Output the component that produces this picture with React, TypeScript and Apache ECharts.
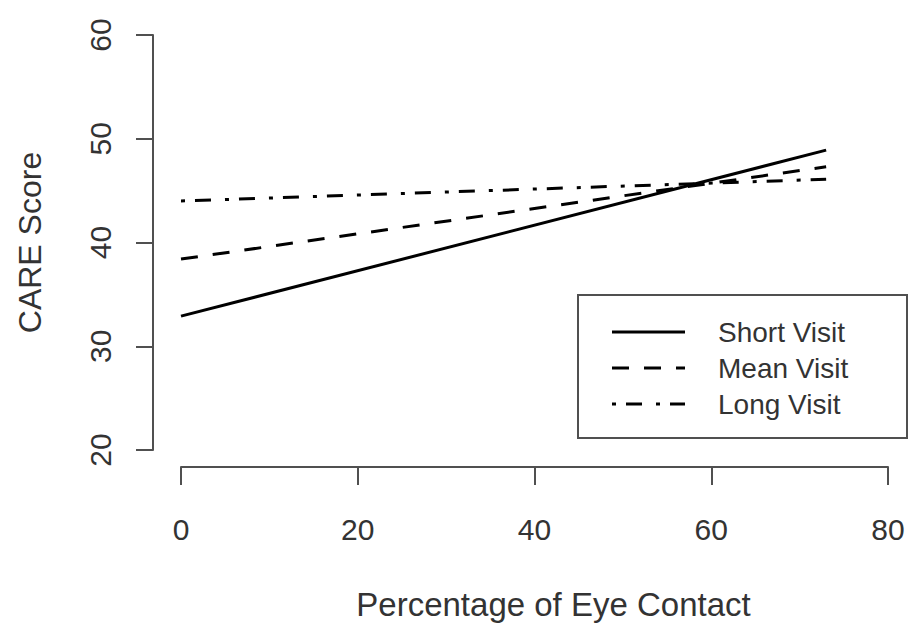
import React, { useEffect, useRef } from "react";
import * as echarts from "echarts";

// Fitted CARE score against percentage of eye contact, by visit length
const eyeContact = [0, 73];
const shortVisit = [32.9, 48.9];
const meanVisit = [38.4, 47.3];
const longVisit = [44.0, 46.1];

const seriesNames = ["Short Visit", "Mean Visit", "Long Visit"];
const xTicks = [0, 20, 40, 60, 80];
const yTicks = [20, 30, 40, 50, 60];

const FONT = "'Liberation Sans', Arial, sans-serif";
const INK = "#000";
const AXIS = "#505050";
const TEXT = "#333";

// R-style line types: solid, dashed, dot-dash
const dashes: (number[] | "solid")[] = ["solid", [17, 15], [4, 10, 16, 14]];

export default function App() {
  const ref = useRef<HTMLDivElement>(null);

  useEffect(() => {
    if (!ref.current) return;
    const chart = echarts.init(ref.current, undefined, { renderer: "svg" });

    const values = [shortVisit, meanVisit, longVisit];

    // legend box drawn as graphic elements
    const boxLeft = 578;
    const boxTop = 295;
    const boxW = 329;
    const boxH = 143;
    const rowY = [332, 368, 404];
    const legendItems: any[] = [
      {
        type: "rect",
        shape: { x: boxLeft, y: boxTop, width: boxW, height: boxH },
        style: { fill: "#fff", stroke: AXIS, lineWidth: 2 },
        z: 10,
      },
    ];
    seriesNames.forEach((name, i) => {
      legendItems.push({
        type: "line",
        shape: { x1: 612, y1: rowY[i], x2: 685, y2: rowY[i] },
        style: {
          stroke: INK,
          lineWidth: 3,
          lineDash: dashes[i] === "solid" ? null : (dashes[i] as number[]),
        },
        z: 11,
      });
      legendItems.push({
        type: "text",
        x: 718,
        y: rowY[i],
        style: {
          text: name,
          fill: TEXT,
          font: `28px ${FONT}`,
          verticalAlign: "middle",
          align: "left",
        },
        z: 11,
      });
    });

    chart.setOption({
      animation: false,
      backgroundColor: "#fff",
      textStyle: { fontFamily: FONT },
      grid: { left: 181, right: 21, top: 35, bottom: 177, containLabel: false },
      xAxis: {
        type: "value",
        min: xTicks[0],
        max: xTicks[xTicks.length - 1],
        interval: 20,
        offset: 17,
        name: "Percentage of Eye Contact",
        nameLocation: "middle",
        nameGap: 121,
        nameTextStyle: {
          fontSize: 33,
          color: TEXT,
          fontFamily: FONT,
          padding: [0, 0, 0, 38],
        },
        axisLine: { show: true, onZero: false, lineStyle: { color: AXIS, width: 2 } },
        axisTick: { show: true, length: 18, lineStyle: { color: AXIS, width: 2 } },
        axisLabel: { fontSize: 30, color: TEXT, margin: 47, fontFamily: FONT },
        splitLine: { show: false },
      },
      yAxis: {
        type: "value",
        min: yTicks[0],
        max: yTicks[yTicks.length - 1],
        interval: 10,
        offset: 28,
        name: "CARE Score",
        nameLocation: "middle",
        nameGap: 107,
        nameTextStyle: { fontSize: 32, color: TEXT, fontFamily: FONT },
        axisLine: { show: true, onZero: false, lineStyle: { color: AXIS, width: 2 } },
        axisTick: { show: true, length: 17, lineStyle: { color: AXIS, width: 2 } },
        axisLabel: {
          fontSize: 30,
          color: TEXT,
          rotate: 90,
          margin: 38,
          fontFamily: FONT,
        },
        splitLine: { show: false },
      },
      series: seriesNames.map((name, i) => ({
        name,
        type: "line",
        data: eyeContact.map((x, j) => [x, values[i][j]]),
        symbol: "none",
        lineStyle: { color: INK, width: 3, type: dashes[i] },
        z: 3,
      })),
      graphic: legendItems,
    });

    return () => chart.dispose();
  }, []);

  return (
    <div
      ref={ref}
      style={{ position: "fixed", left: 0, top: 0, width: 909, height: 627 }}
    />
  );
}
